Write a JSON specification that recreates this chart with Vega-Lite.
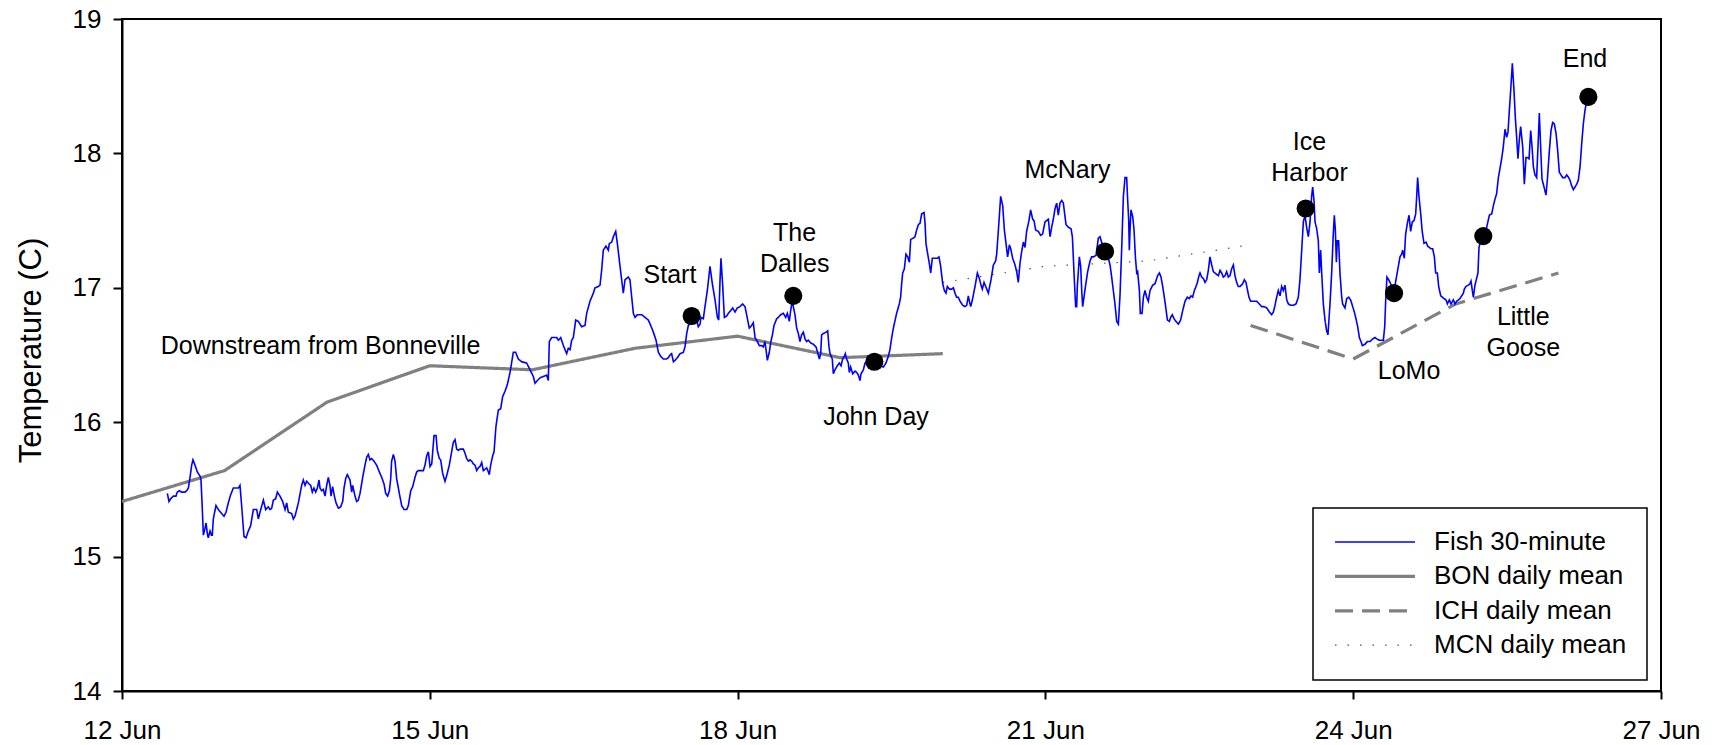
{
"$schema": "https://vega.github.io/schema/vega-lite/v6.json",
"width": 1539, "height": 672,
"autosize": "none",
"padding": {"left": 122, "top": 19, "right": 56, "bottom": 54},
"background": "white",
"config": {
  "font": "Liberation Sans",
  "view": {"stroke": "black", "strokeWidth": 2},
  "axis": {"domainColor": "black", "domainWidth": 2, "tickColor": "black", "tickWidth": 2, "labelColor": "black", "grid": false, "labelFontSize": 26, "labelFont": "Liberation Sans", "titleFont": "Liberation Sans", "titleFontWeight": "normal", "titleColor": "black"},
  "legend": {"padding": 20, "strokeColor": "black", "fillColor": "white", "symbolType": "stroke", "symbolSize": 6400, "symbolOffset": 29, "labelFontSize": 26, "labelFont": "Liberation Sans", "labelColor": "black", "labelOffset": 46, "rowPadding": 6.4, "clipHeight": 28, "labelLimit": 400}
},
"datasets": {
"means": [
{"series":"BON daily mean","day":12,"temp":15.41},{"series":"BON daily mean","day":13,"temp":15.64},{"series":"BON daily mean","day":14,"temp":16.15},{"series":"BON daily mean","day":15,"temp":16.42},{"series":"BON daily mean","day":16,"temp":16.39},{"series":"BON daily mean","day":17,"temp":16.55},{"series":"BON daily mean","day":18,"temp":16.64},{"series":"BON daily mean","day":19,"temp":16.48},{"series":"BON daily mean","day":20,"temp":16.51},
{"series":"ICH daily mean","day":23,"temp":16.72},{"series":"ICH daily mean","day":24,"temp":16.47},{"series":"ICH daily mean","day":25,"temp":16.88},{"series":"ICH daily mean","day":26,"temp":17.11},
{"series":"MCN daily mean","day":20,"temp":17.04},{"series":"MCN daily mean","day":21,"temp":17.16},{"series":"MCN daily mean","day":22,"temp":17.2},{"series":"MCN daily mean","day":23,"temp":17.32}
],
"sites": [
{"site":"Start","day":17.552,"temp":16.79},{"site":"The Dalles","day":18.543,"temp":16.94},{"site":"John Day","day":19.333,"temp":16.45},{"site":"McNary","day":21.581,"temp":17.27},{"site":"Ice Harbor","day":23.537,"temp":17.59},{"site":"LoMo","day":24.398,"temp":16.96},{"site":"Little Goose","day":25.268,"temp":17.385},{"site":"End","day":26.292,"temp":18.42}
],
"labels": [
{"label":"Start","day":17.341,"temp":17.036},{"label":"The\nDalles","day":18.556,"temp":17.348},{"label":"John Day","day":19.349,"temp":15.978},{"label":"McNary","day":21.215,"temp":17.819},{"label":"Ice\nHarbor","day":23.574,"temp":18.022},{"label":"LoMo","day":24.544,"temp":16.325},{"label":"Little\nGoose","day":25.658,"temp":16.721},{"label":"End","day":26.259,"temp":18.642},{"label":"Downstream from Bonneville","day":13.935,"temp":16.506}
],
"fish": [
{"day":12.442,"temp":15.47},{"day":12.458,"temp":15.41},{"day":12.474,"temp":15.43},{"day":12.5,"temp":15.45},{"day":12.526,"temp":15.45},{"day":12.539,"temp":15.48},{"day":12.559,"temp":15.49},{"day":12.582,"temp":15.48},{"day":12.614,"temp":15.48},{"day":12.63,"temp":15.49},{"day":12.647,"temp":15.51},{"day":12.663,"temp":15.59},{"day":12.679,"temp":15.68},{"day":12.692,"temp":15.72},{"day":12.712,"temp":15.68},{"day":12.734,"temp":15.63},{"day":12.76,"temp":15.6},{"day":12.77,"temp":15.57},{"day":12.783,"temp":15.35},{"day":12.793,"temp":15.16},{"day":12.809,"temp":15.21},{"day":12.819,"temp":15.25},{"day":12.832,"temp":15.17},{"day":12.841,"temp":15.14},{"day":12.858,"temp":15.19},{"day":12.871,"temp":15.16},{"day":12.88,"temp":15.16},{"day":12.89,"temp":15.28},{"day":12.916,"temp":15.38},{"day":12.939,"temp":15.35},{"day":12.971,"temp":15.32},{"day":12.994,"temp":15.3},{"day":13.014,"temp":15.33},{"day":13.036,"temp":15.4},{"day":13.059,"temp":15.46},{"day":13.085,"temp":15.51},{"day":13.101,"temp":15.51},{"day":13.134,"temp":15.51},{"day":13.15,"temp":15.53},{"day":13.166,"temp":15.38},{"day":13.189,"temp":15.15},{"day":13.209,"temp":15.14},{"day":13.231,"temp":15.19},{"day":13.254,"temp":15.23},{"day":13.28,"temp":15.35},{"day":13.313,"temp":15.35},{"day":13.329,"temp":15.28},{"day":13.345,"temp":15.33},{"day":13.378,"temp":15.42},{"day":13.4,"temp":15.35},{"day":13.426,"temp":15.37},{"day":13.443,"temp":15.35},{"day":13.459,"temp":15.36},{"day":13.475,"temp":15.42},{"day":13.498,"temp":15.43},{"day":13.514,"temp":15.48},{"day":13.54,"temp":15.45},{"day":13.566,"temp":15.41},{"day":13.589,"temp":15.35},{"day":13.605,"temp":15.4},{"day":13.621,"temp":15.33},{"day":13.654,"temp":15.32},{"day":13.67,"temp":15.28},{"day":13.686,"temp":15.3},{"day":13.719,"temp":15.4},{"day":13.751,"temp":15.53},{"day":13.767,"temp":15.57},{"day":13.784,"temp":15.53},{"day":13.8,"temp":15.56},{"day":13.823,"temp":15.54},{"day":13.839,"temp":15.53},{"day":13.855,"temp":15.48},{"day":13.871,"temp":15.51},{"day":13.888,"temp":15.48},{"day":13.904,"temp":15.51},{"day":13.92,"temp":15.57},{"day":13.93,"temp":15.51},{"day":13.946,"temp":15.49},{"day":13.962,"temp":15.5},{"day":13.979,"temp":15.45},{"day":13.995,"temp":15.53},{"day":14.011,"temp":15.59},{"day":14.027,"temp":15.53},{"day":14.037,"temp":15.45},{"day":14.053,"temp":15.52},{"day":14.07,"temp":15.45},{"day":14.086,"temp":15.4},{"day":14.109,"temp":15.36},{"day":14.131,"temp":15.37},{"day":14.151,"temp":15.41},{"day":14.164,"temp":15.51},{"day":14.18,"temp":15.58},{"day":14.196,"temp":15.61},{"day":14.222,"temp":15.57},{"day":14.239,"temp":15.48},{"day":14.248,"temp":15.53},{"day":14.271,"temp":15.45},{"day":14.287,"temp":15.41},{"day":14.303,"temp":15.42},{"day":14.32,"temp":15.47},{"day":14.346,"temp":15.59},{"day":14.368,"temp":15.68},{"day":14.385,"temp":15.74},{"day":14.401,"temp":15.76},{"day":14.417,"temp":15.72},{"day":14.433,"temp":15.73},{"day":14.456,"temp":15.71},{"day":14.482,"temp":15.68},{"day":14.508,"temp":15.63},{"day":14.531,"temp":15.59},{"day":14.554,"temp":15.54},{"day":14.57,"temp":15.47},{"day":14.589,"temp":15.45},{"day":14.606,"temp":15.49},{"day":14.619,"temp":15.58},{"day":14.628,"temp":15.71},{"day":14.645,"temp":15.76},{"day":14.661,"temp":15.71},{"day":14.677,"temp":15.58},{"day":14.703,"temp":15.47},{"day":14.726,"temp":15.38},{"day":14.749,"temp":15.35},{"day":14.775,"temp":15.35},{"day":14.791,"temp":15.38},{"day":14.814,"temp":15.49},{"day":14.833,"temp":15.52},{"day":14.856,"temp":15.59},{"day":14.872,"temp":15.63},{"day":14.888,"temp":15.64},{"day":14.937,"temp":15.64},{"day":14.953,"temp":15.68},{"day":14.97,"temp":15.75},{"day":14.986,"temp":15.78},{"day":15.002,"temp":15.67},{"day":15.019,"temp":15.69},{"day":15.041,"temp":15.9},{"day":15.061,"temp":15.9},{"day":15.073,"temp":15.79},{"day":15.093,"temp":15.73},{"day":15.106,"temp":15.72},{"day":15.125,"temp":15.62},{"day":15.148,"temp":15.56},{"day":15.164,"temp":15.6},{"day":15.19,"temp":15.68},{"day":15.213,"temp":15.78},{"day":15.229,"temp":15.85},{"day":15.246,"temp":15.87},{"day":15.262,"temp":15.8},{"day":15.278,"temp":15.79},{"day":15.294,"temp":15.8},{"day":15.327,"temp":15.8},{"day":15.343,"temp":15.77},{"day":15.359,"temp":15.73},{"day":15.376,"temp":15.71},{"day":15.392,"temp":15.72},{"day":15.408,"temp":15.71},{"day":15.424,"temp":15.69},{"day":15.441,"temp":15.68},{"day":15.457,"temp":15.64},{"day":15.473,"temp":15.66},{"day":15.489,"temp":15.67},{"day":15.506,"temp":15.7},{"day":15.522,"temp":15.64},{"day":15.538,"temp":15.65},{"day":15.554,"temp":15.66},{"day":15.571,"temp":15.63},{"day":15.58,"temp":15.61},{"day":15.593,"temp":15.68},{"day":15.613,"temp":15.75},{"day":15.626,"temp":15.78},{"day":15.645,"temp":15.97},{"day":15.668,"temp":16.09},{"day":15.691,"temp":16.1},{"day":15.71,"temp":16.19},{"day":15.733,"temp":16.23},{"day":15.756,"temp":16.28},{"day":15.782,"temp":16.37},
{"day":15.814,"temp":16.52},{"day":15.837,"temp":16.52},{"day":15.863,"temp":16.47},{"day":15.895,"temp":16.45},{"day":15.944,"temp":16.44},{"day":15.977,"temp":16.39},{"day":16.009,"temp":16.34},{"day":16.025,"temp":16.29},{"day":16.048,"temp":16.31},{"day":16.074,"temp":16.33},{"day":16.107,"temp":16.34},{"day":16.139,"temp":16.35},{"day":16.155,"temp":16.31},{"day":16.165,"temp":16.6},{"day":16.188,"temp":16.63},{"day":16.237,"temp":16.63},{"day":16.253,"temp":16.61},{"day":16.276,"temp":16.63},{"day":16.302,"temp":16.57},{"day":16.334,"temp":16.51},{"day":16.35,"temp":16.55},{"day":16.367,"temp":16.54},{"day":16.383,"temp":16.61},{"day":16.399,"temp":16.63},{"day":16.422,"temp":16.76},{"day":16.448,"temp":16.75},{"day":16.48,"temp":16.71},{"day":16.513,"temp":16.72},{"day":16.529,"temp":16.81},{"day":16.561,"temp":16.9},{"day":16.594,"temp":16.96},{"day":16.61,"temp":17.0},{"day":16.643,"temp":17.01},{"day":16.659,"temp":17.02},{"day":16.675,"temp":17.13},{"day":16.691,"temp":17.28},{"day":16.717,"temp":17.31},{"day":16.74,"temp":17.28},{"day":16.75,"temp":17.33},{"day":16.773,"temp":17.34},{"day":16.789,"temp":17.38},{"day":16.812,"temp":17.42},{"day":16.828,"temp":17.33},{"day":16.854,"temp":17.16},{"day":16.87,"temp":17.06},{"day":16.886,"temp":16.96},{"day":16.903,"temp":17.06},{"day":16.935,"temp":17.08},{"day":16.951,"temp":17.06},{"day":16.968,"temp":16.93},{"day":16.984,"temp":16.81},{"day":17.0,"temp":16.78},{"day":17.023,"temp":16.8},{"day":17.065,"temp":16.8},{"day":17.098,"temp":16.78},{"day":17.13,"temp":16.76},{"day":17.153,"temp":16.72},{"day":17.179,"temp":16.67},{"day":17.205,"temp":16.61},{"day":17.228,"temp":16.52},{"day":17.25,"temp":16.49},{"day":17.276,"temp":16.47},{"day":17.309,"temp":16.47},{"day":17.325,"temp":16.48},{"day":17.341,"temp":16.5},{"day":17.357,"temp":16.51},{"day":17.374,"temp":16.45},{"day":17.39,"temp":16.46},{"day":17.413,"temp":16.48},{"day":17.439,"temp":16.51},{"day":17.471,"temp":16.52},{"day":17.487,"temp":16.56},{"day":17.504,"temp":16.66},{"day":17.52,"temp":16.72},{"day":17.536,"temp":16.73},{"day":17.569,"temp":16.75},{"day":17.601,"temp":16.76},{"day":17.617,"temp":16.71},{"day":17.634,"temp":16.73},{"day":17.643,"temp":16.78},{"day":17.666,"temp":16.77},{"day":17.682,"temp":16.86},{"day":17.705,"temp":16.98},{"day":17.731,"temp":17.16},{"day":17.754,"temp":17.03},{"day":17.78,"temp":16.91},{"day":17.803,"temp":16.78},{"day":17.816,"temp":16.76},{"day":17.829,"temp":17.06},{"day":17.838,"temp":17.22},{"day":17.855,"temp":17.01},{"day":17.871,"temp":16.78},{"day":17.894,"temp":16.79},{"day":17.91,"temp":16.81},{"day":17.932,"temp":16.83},{"day":17.952,"temp":16.85},{"day":17.975,"temp":16.82},{"day":17.997,"temp":16.85},{"day":18.023,"temp":16.86},{"day":18.049,"temp":16.88},{"day":18.072,"temp":16.86},{"day":18.088,"temp":16.8},{"day":18.114,"temp":16.7},{"day":18.137,"temp":16.72},{"day":18.153,"temp":16.74},{"day":18.17,"temp":16.63},{"day":18.192,"temp":16.6},{"day":18.212,"temp":16.57},{"day":18.235,"temp":16.57},{"day":18.251,"temp":16.56},{"day":18.267,"temp":16.6},{"day":18.29,"temp":16.46},{"day":18.309,"temp":16.52},{"day":18.322,"temp":16.59},{"day":18.339,"temp":16.65},{"day":18.355,"temp":16.72},{"day":18.381,"temp":16.77},{"day":18.397,"temp":16.78},{"day":18.42,"temp":16.8},{"day":18.446,"temp":16.81},{"day":18.469,"temp":16.78},{"day":18.485,"temp":16.81},{"day":18.504,"temp":16.75},{"day":18.517,"temp":16.83},{"day":18.534,"temp":16.91},{"day":18.543,"temp":16.86},{"day":18.559,"temp":16.8},{"day":18.576,"temp":16.7},{"day":18.592,"temp":16.66},{"day":18.608,"temp":16.6},{"day":18.624,"temp":16.65},{"day":18.641,"temp":16.67},{"day":18.657,"temp":16.62},{"day":18.673,"temp":16.6},{"day":18.689,"temp":16.61},{"day":18.712,"temp":16.59},{"day":18.738,"temp":16.58},{"day":18.764,"temp":16.56},{"day":18.78,"temp":16.52},{"day":18.797,"temp":16.47},{"day":18.81,"temp":16.51},{"day":18.819,"temp":16.65},{"day":18.836,"temp":16.66},{"day":18.862,"temp":16.67},{"day":18.878,"temp":16.68},{"day":18.891,"temp":16.56},{"day":18.901,"temp":16.51},{"day":18.923,"temp":16.47},{"day":18.933,"temp":16.36},{"day":18.949,"temp":16.39},{"day":18.972,"temp":16.42},{"day":18.992,"temp":16.44},{"day":19.008,"temp":16.42},{"day":19.024,"temp":16.47},{"day":19.04,"temp":16.49},{"day":19.05,"temp":16.51},{"day":19.063,"temp":16.47},{"day":19.079,"temp":16.44},{"day":19.089,"temp":16.37},{"day":19.102,"temp":16.41},{"day":19.122,"temp":16.36},{"day":19.144,"temp":16.38},{"day":19.161,"temp":16.37},{"day":19.177,"temp":16.35},{"day":19.193,"temp":16.31},{"day":19.203,"temp":16.36},{"day":19.226,"temp":16.39},{"day":19.242,"temp":16.44},{"day":19.274,"temp":16.46},{"day":19.333,"temp":16.45},{"day":19.39,"temp":16.42},
{"day":19.42,"temp":16.41},{"day":19.446,"temp":16.44},{"day":19.469,"temp":16.49},{"day":19.485,"temp":16.54},{"day":19.502,"temp":16.63},{"day":19.518,"temp":16.7},{"day":19.55,"temp":16.81},{"day":19.576,"temp":16.88},{"day":19.589,"temp":16.93},{"day":19.599,"temp":17.03},{"day":19.609,"temp":17.11},{"day":19.625,"temp":17.14},{"day":19.641,"temp":17.25},{"day":19.658,"temp":17.23},{"day":19.674,"temp":17.19},{"day":19.687,"temp":17.36},{"day":19.713,"temp":17.37},{"day":19.729,"temp":17.38},{"day":19.745,"temp":17.43},{"day":19.762,"temp":17.47},{"day":19.778,"temp":17.48},{"day":19.794,"temp":17.55},{"day":19.817,"temp":17.56},{"day":19.827,"temp":17.48},{"day":19.836,"temp":17.33},{"day":19.853,"temp":17.25},{"day":19.869,"temp":17.18},{"day":19.882,"temp":17.11},{"day":19.898,"temp":17.22},{"day":19.924,"temp":17.22},{"day":19.947,"temp":17.22},{"day":19.963,"temp":17.23},{"day":19.979,"temp":17.16},{"day":19.999,"temp":17.03},{"day":20.015,"temp":16.98},{"day":20.031,"temp":16.96},{"day":20.044,"temp":17.01},{"day":20.064,"temp":16.99},{"day":20.086,"temp":16.99},{"day":20.103,"temp":17.0},{"day":20.119,"temp":16.96},{"day":20.135,"temp":16.93},{"day":20.151,"temp":16.93},{"day":20.168,"temp":16.9},{"day":20.194,"temp":16.87},{"day":20.216,"temp":16.86},{"day":20.233,"temp":16.87},{"day":20.249,"temp":16.94},{"day":20.259,"temp":16.9},{"day":20.272,"temp":16.86},{"day":20.291,"temp":16.92},{"day":20.314,"temp":17.01},{"day":20.337,"temp":17.11},{"day":20.356,"temp":17.07},{"day":20.369,"temp":17.03},{"day":20.385,"temp":16.99},{"day":20.402,"temp":17.04},{"day":20.418,"temp":17.01},{"day":20.444,"temp":16.96},{"day":20.47,"temp":17.06},{"day":20.493,"temp":17.17},{"day":20.515,"temp":17.2},{"day":20.525,"temp":17.25},{"day":20.541,"temp":17.42},{"day":20.564,"temp":17.68},{"day":20.584,"temp":17.61},{"day":20.6,"temp":17.43},{"day":20.616,"temp":17.33},{"day":20.632,"temp":17.23},{"day":20.649,"temp":17.32},{"day":20.662,"temp":17.29},{"day":20.681,"temp":17.22},{"day":20.704,"temp":17.17},{"day":20.72,"temp":17.12},{"day":20.736,"temp":17.04},{"day":20.752,"temp":17.18},{"day":20.769,"temp":17.27},{"day":20.785,"temp":17.34},{"day":20.801,"temp":17.3},{"day":20.817,"temp":17.42},{"day":20.84,"temp":17.5},{"day":20.856,"temp":17.58},{"day":20.876,"temp":17.51},{"day":20.889,"temp":17.5},{"day":20.905,"temp":17.43},{"day":20.931,"temp":17.42},{"day":20.954,"temp":17.39},{"day":20.973,"temp":17.4},{"day":20.996,"temp":17.49},{"day":21.012,"temp":17.5},{"day":21.029,"temp":17.51},{"day":21.045,"temp":17.38},{"day":21.061,"temp":17.45},{"day":21.077,"temp":17.51},{"day":21.094,"temp":17.59},{"day":21.11,"temp":17.63},{"day":21.126,"temp":17.54},{"day":21.142,"temp":17.63},{"day":21.159,"temp":17.65},{"day":21.175,"temp":17.63},{"day":21.191,"temp":17.53},{"day":21.201,"temp":17.47},{"day":21.224,"temp":17.45},{"day":21.25,"temp":17.44},{"day":21.263,"temp":17.38},{"day":21.272,"temp":17.23},{"day":21.282,"temp":17.06},{"day":21.295,"temp":16.86},{"day":21.305,"temp":16.86},{"day":21.311,"temp":17.01},{"day":21.331,"temp":17.23},{"day":21.344,"temp":17.16},{"day":21.354,"temp":16.98},{"day":21.363,"temp":16.86},{"day":21.376,"temp":16.93},{"day":21.396,"temp":17.04},{"day":21.412,"temp":17.12},{"day":21.435,"temp":17.2},{"day":21.451,"temp":17.23},{"day":21.467,"temp":17.23},{"day":21.493,"temp":17.24},{"day":21.516,"temp":17.37},{"day":21.532,"temp":17.38},{"day":21.548,"temp":17.34},{"day":21.571,"temp":17.3},{"day":21.591,"temp":17.27},{"day":21.614,"temp":17.22},{"day":21.63,"temp":17.17},{"day":21.646,"temp":17.08},{"day":21.662,"temp":16.98},{"day":21.678,"temp":16.88},{"day":21.695,"temp":16.75},{"day":21.711,"temp":16.73},{"day":21.727,"temp":16.94},{"day":21.743,"temp":17.28},{"day":21.76,"temp":17.68},{"day":21.776,"temp":17.82},{"day":21.792,"temp":17.82},{"day":21.802,"temp":17.65},{"day":21.812,"temp":17.5},{"day":21.818,"temp":17.28},{"day":21.825,"temp":17.43},{"day":21.834,"temp":17.58},{"day":21.851,"temp":17.53},{"day":21.864,"temp":17.43},{"day":21.877,"temp":17.23},{"day":21.89,"temp":17.11},{"day":21.899,"temp":17.12},{"day":21.916,"temp":16.98},{"day":21.925,"temp":16.81},{"day":21.942,"temp":16.81},{"day":21.955,"temp":16.93},{"day":21.971,"temp":16.98},{"day":21.987,"temp":16.93},{"day":22.003,"temp":16.9},{"day":22.02,"temp":16.98},{"day":22.046,"temp":17.02},{"day":22.068,"temp":17.03},{"day":22.094,"temp":17.09},{"day":22.111,"temp":17.11},{"day":22.127,"temp":17.08},{"day":22.143,"temp":17.01},{"day":22.159,"temp":16.93},{"day":22.172,"temp":16.86},{"day":22.189,"temp":16.76},{"day":22.208,"temp":16.75},{"day":22.221,"temp":16.78},{"day":22.237,"temp":16.8},{"day":22.253,"temp":16.77},{"day":22.273,"temp":16.75},{"day":22.296,"temp":16.73},{"day":22.318,"temp":16.76},{"day":22.338,"temp":16.83},{"day":22.361,"temp":16.9},{"day":22.383,"temp":16.93},{"day":22.403,"temp":16.92},{"day":22.419,"temp":16.94},{"day":22.435,"temp":16.93},{"day":22.452,"temp":16.98},{"day":22.468,"temp":17.01},{"day":22.481,"temp":17.04},{"day":22.497,"temp":17.09},{"day":22.507,"temp":17.11},{"day":22.523,"temp":17.08},{"day":22.539,"temp":17.07},{"day":22.556,"temp":17.04},{"day":22.572,"temp":17.06},{"day":22.588,"temp":17.13},{"day":22.604,"temp":17.23},{"day":22.621,"temp":17.17},{"day":22.637,"temp":17.12},{"day":22.653,"temp":17.11},{"day":22.686,"temp":17.09},{"day":22.702,"temp":17.13},{"day":22.718,"temp":17.11},{"day":22.734,"temp":17.08},{"day":22.751,"temp":17.09},{"day":22.767,"temp":17.12},{"day":22.783,"temp":17.08},{"day":22.799,"temp":17.09},{"day":22.815,"temp":17.14},{"day":22.832,"temp":17.17},{"day":22.848,"temp":17.09},{"day":22.864,"temp":17.04},{"day":22.88,"temp":17.01},
{"day":22.897,"temp":17.01},{"day":22.923,"temp":17.03},{"day":22.939,"temp":17.06},{"day":22.955,"temp":17.04},{"day":22.968,"temp":16.99},{"day":22.984,"temp":16.93},{"day":23.001,"temp":16.9},{"day":23.027,"temp":16.9},{"day":23.059,"temp":16.9},{"day":23.085,"temp":16.88},{"day":23.108,"temp":16.86},{"day":23.131,"temp":16.86},{"day":23.157,"temp":16.85},{"day":23.183,"temp":16.82},{"day":23.205,"temp":16.8},{"day":23.222,"temp":16.82},{"day":23.238,"temp":16.87},{"day":23.254,"temp":16.93},{"day":23.27,"temp":16.98},{"day":23.287,"temp":16.94},{"day":23.303,"temp":17.01},{"day":23.319,"temp":16.98},{"day":23.335,"temp":17.02},{"day":23.352,"temp":16.91},{"day":23.368,"temp":16.88},{"day":23.391,"temp":16.87},{"day":23.417,"temp":16.87},{"day":23.443,"temp":16.88},{"day":23.465,"temp":16.93},{"day":23.481,"temp":17.06},{"day":23.498,"temp":17.28},{"day":23.514,"temp":17.49},{"day":23.53,"temp":17.54},{"day":23.546,"temp":17.45},{"day":23.563,"temp":17.38},{"day":23.579,"temp":17.49},{"day":23.595,"temp":17.68},{"day":23.605,"temp":17.75},{"day":23.618,"temp":17.65},{"day":23.628,"temp":17.49},{"day":23.644,"temp":17.44},{"day":23.66,"temp":17.35},{"day":23.67,"temp":17.11},{"day":23.683,"temp":17.28},{"day":23.693,"temp":17.11},{"day":23.709,"temp":16.88},{"day":23.725,"temp":16.76},{"day":23.741,"temp":16.68},{"day":23.754,"temp":16.65},{"day":23.774,"temp":16.88},{"day":23.79,"temp":17.11},{"day":23.806,"temp":17.4},{"day":23.816,"temp":17.54},{"day":23.826,"temp":17.43},{"day":23.836,"temp":17.19},{"day":23.845,"temp":17.35},{"day":23.858,"temp":17.35},{"day":23.871,"temp":17.11},{"day":23.888,"temp":16.93},{"day":23.897,"temp":16.88},{"day":23.92,"temp":16.85},{"day":23.937,"temp":16.92},{"day":23.956,"temp":16.93},{"day":23.975,"temp":16.91},{"day":23.995,"temp":16.86},{"day":24.011,"temp":16.82},{"day":24.027,"temp":16.77},{"day":24.044,"temp":16.71},{"day":24.06,"temp":16.63},{"day":24.076,"temp":16.6},{"day":24.089,"temp":16.57},{"day":24.115,"temp":16.58},{"day":24.138,"temp":16.6},{"day":24.164,"temp":16.6},{"day":24.19,"temp":16.62},{"day":24.213,"temp":16.63},{"day":24.229,"temp":16.62},{"day":24.255,"temp":16.61},{"day":24.294,"temp":16.61},{"day":24.307,"temp":16.71},{"day":24.317,"temp":16.91},{"day":24.329,"temp":17.08},{"day":24.346,"temp":17.06},{"day":24.365,"temp":17.03},{"day":24.398,"temp":16.97},{"day":24.417,"temp":17.06},{"day":24.44,"temp":17.16},{"day":24.456,"temp":17.23},{"day":24.472,"temp":17.25},{"day":24.482,"temp":17.28},{"day":24.498,"temp":17.22},{"day":24.511,"temp":17.4},{"day":24.528,"temp":17.48},{"day":24.544,"temp":17.54},{"day":24.56,"temp":17.42},{"day":24.576,"temp":17.49},{"day":24.593,"temp":17.5},{"day":24.609,"temp":17.55},{"day":24.619,"temp":17.68},{"day":24.628,"temp":17.82},{"day":24.641,"temp":17.68},{"day":24.658,"temp":17.55},{"day":24.671,"temp":17.43},{"day":24.69,"temp":17.33},{"day":24.71,"temp":17.34},{"day":24.726,"temp":17.31},{"day":24.742,"temp":17.3},{"day":24.758,"temp":17.29},{"day":24.775,"temp":17.29},{"day":24.791,"temp":17.23},{"day":24.804,"temp":17.11},{"day":24.82,"temp":17.11},{"day":24.833,"temp":17.01},{"day":24.853,"temp":16.94},{"day":24.869,"temp":16.93},{"day":24.885,"temp":16.92},{"day":24.905,"temp":16.91},{"day":24.918,"temp":16.88},{"day":24.937,"temp":16.91},{"day":24.953,"temp":16.88},{"day":24.976,"temp":16.91},{"day":24.992,"temp":16.88},{"day":25.008,"temp":16.9},{"day":25.025,"temp":16.91},{"day":25.041,"temp":16.92},{"day":25.057,"temp":16.94},{"day":25.074,"temp":16.96},{"day":25.083,"temp":16.99},{"day":25.099,"temp":17.01},{"day":25.122,"temp":17.02},{"day":25.138,"temp":17.03},{"day":25.148,"temp":17.05},{"day":25.161,"temp":16.98},{"day":25.171,"temp":16.93},{"day":25.187,"temp":17.02},{"day":25.203,"temp":17.07},{"day":25.216,"temp":17.11},{"day":25.226,"temp":17.3},{"day":25.236,"temp":17.33},{"day":25.268,"temp":17.39},{"day":25.301,"temp":17.45},{"day":25.327,"temp":17.54},{"day":25.35,"temp":17.55},{"day":25.366,"temp":17.61},{"day":25.382,"temp":17.66},{"day":25.398,"temp":17.7},{"day":25.415,"temp":17.82},{"day":25.431,"temp":17.89},{"day":25.447,"temp":17.96},{"day":25.463,"temp":18.05},{"day":25.48,"temp":18.18},{"day":25.496,"temp":18.12},{"day":25.509,"temp":18.16},{"day":25.522,"temp":18.32},{"day":25.535,"temp":18.47},{"day":25.551,"temp":18.67},{"day":25.567,"temp":18.47},{"day":25.58,"temp":18.27},{"day":25.593,"temp":18.12},{"day":25.606,"temp":17.96},{"day":25.619,"temp":18.1},{"day":25.632,"temp":18.2},{"day":25.652,"temp":18.05},{"day":25.668,"temp":17.77},{"day":25.684,"temp":17.97},{"day":25.697,"temp":17.97},{"day":25.714,"temp":17.96},{"day":25.73,"temp":18.17},{"day":25.743,"temp":18.05},{"day":25.756,"temp":17.9},{"day":25.772,"temp":17.84},{"day":25.788,"temp":17.82},{"day":25.805,"temp":18.12},{"day":25.814,"temp":18.3},{"day":25.827,"temp":18.05},{"day":25.84,"temp":17.81},{"day":25.86,"temp":17.75},{"day":25.879,"temp":17.69},{"day":25.892,"temp":17.8},{"day":25.912,"temp":18.02},{"day":25.928,"temp":18.17},{"day":25.944,"temp":18.23},{"day":25.96,"temp":18.22},{"day":25.977,"temp":18.15},{"day":25.993,"temp":18.02},{"day":26.009,"temp":17.86},{"day":26.025,"temp":17.84},{"day":26.042,"temp":17.82},{"day":26.064,"temp":17.82},{"day":26.081,"temp":17.84},{"day":26.1,"temp":17.82},{"day":26.113,"temp":17.8},{"day":26.129,"temp":17.76},{"day":26.146,"temp":17.73},{"day":26.162,"temp":17.75},{"day":26.178,"temp":17.77},{"day":26.194,"temp":17.8},{"day":26.211,"temp":17.9},{"day":26.227,"temp":18.07},{"day":26.243,"temp":18.22},{"day":26.259,"temp":18.32},{"day":26.276,"temp":18.39},{"day":26.292,"temp":18.42}
]
},
"encoding": {
  "x": {"field": "day", "type": "quantitative", "scale": {"domain": [12, 27], "nice": false, "zero": false},
        "axis": {"title": null, "values": [12, 15, 18, 21, 24, 27], "labelExpr": "datum.value + ' Jun'", "tickSize": 8, "labelBaseline": "alphabetic", "labelPadding": 39, "labelFlush": false, "labelOverlap": false}},
  "y": {"field": "temp", "type": "quantitative", "scale": {"domain": [14, 19], "nice": false, "zero": false},
        "axis": {"title": "Temperature (C)", "values": [14, 15, 16, 17, 18, 19], "tickSize": 9, "labelPadding": 12, "titleFontSize": 31, "titlePadding": 25, "titleY": 331, "labelFlush": false}}
},
"layer": [
  {
    "data": {"name": "means"},
    "mark": {"type": "line"},
    "encoding": {
      "color": {"field": "series", "type": "nominal",
        "scale": {"domain": ["Fish 30-minute", "BON daily mean", "ICH daily mean", "MCN daily mean"], "range": ["#0000ff", "#808080", "#808080", "#555555"]},
        "legend": {"title": null, "orient": "none", "legendX": 1191, "legendY": 489,
          "encode": {
            "symbols": {"update": {"strokeWidth": {"signal": "datum.value === 'BON daily mean' || datum.value === 'ICH daily mean' ? 3.2 : datum.value === 'MCN daily mean' ? 1.2 : 1.6"}}},
            "legend": {"update": {"strokeWidth": {"value": 1.5}}}
          }}},
      "strokeDash": {"field": "series", "type": "nominal",
        "scale": {"domain": ["Fish 30-minute", "BON daily mean", "ICH daily mean", "MCN daily mean"], "range": [[1, 0], [1, 0], [18, 9], [1.5, 11]]},
        "legend": {"title": null}},
      "strokeWidth": {"condition": {"test": "datum.series === 'MCN daily mean'", "value": 1.2}, "value": 3.2}
    }
  },
  {
    "data": {"name": "fish"},
    "mark": {"type": "line", "strokeWidth": 1.6},
    "encoding": {
      "color": {"datum": "Fish 30-minute", "type": "nominal"},
      "strokeDash": {"datum": "Fish 30-minute", "type": "nominal"}
    }
  },
  {
    "data": {"name": "sites"},
    "mark": {"type": "circle", "size": 330, "color": "black", "opacity": 1}
  },
  {
    "data": {"name": "labels"},
    "mark": {"type": "text", "fontSize": 25, "font": "Liberation Sans", "align": "center", "baseline": "alphabetic", "lineBreak": "\n", "lineHeight": 31, "color": "black"},
    "encoding": {"text": {"field": "label", "type": "nominal"}}
  }
]
}
